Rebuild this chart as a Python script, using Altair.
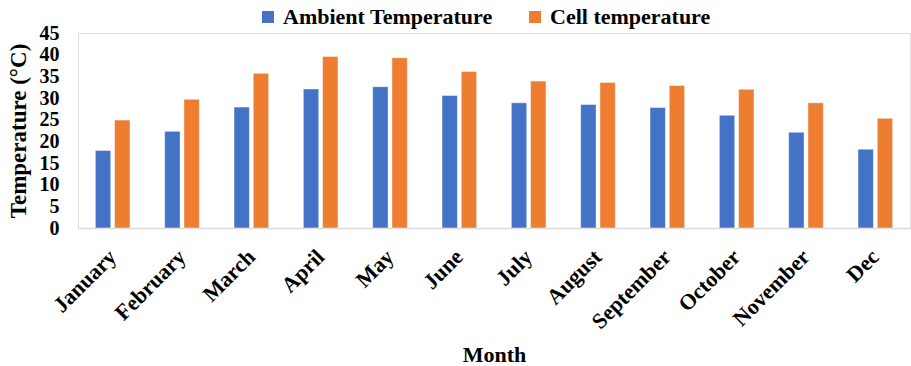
import altair as alt
import pandas as pd

months = ["January", "February", "March", "April", "May", "June", "July",
          "August", "September", "October", "November", "Dec"]
ambient = [17.9, 22.3, 27.9, 32.1, 32.6, 30.6, 28.9, 28.5, 27.8, 26.0, 22.1, 18.2]
cell = [24.9, 29.7, 35.7, 39.6, 39.3, 36.1, 33.9, 33.6, 32.9, 32.0, 28.9, 25.3]
series = ["Ambient Temperature", "Cell temperature"]
colors = ["#4472C4", "#ED7D31"]

rows = []
for m, a, c in zip(months, ambient, cell):
    rows.append({"Month": m, "Series": series[0], "Value": a})
    rows.append({"Month": m, "Series": series[1], "Value": c})
df = pd.DataFrame(rows)

FONT = "Liberation Serif"

chart = alt.Chart(df).mark_bar(stroke="#ffffff", strokeWidth=0.8, strokeOpacity=0.6).encode(
    x=alt.X("Month:N", sort=months,
            scale=alt.Scale(paddingInner=0.5, paddingOuter=0.25),
            axis=alt.Axis(title="Month", labelAngle=-45, labelAlign="right",
                          labelBaseline="middle", labelPadding=25,
                          labelFont=FONT, labelFontSize=22, labelFontWeight="bold",
                          labelColor="#000000", ticks=False,
                          domainColor="#D9D9D9", domainWidth=1.5,
                          titleFont=FONT, titleFontSize=22, titleFontWeight="bold",
                          titleColor="#000000", titlePadding=12)),
    xOffset=alt.XOffset("Series:N", sort=series,
                        scale=alt.Scale(paddingInner=0.2)),
    y=alt.Y("Value:Q", scale=alt.Scale(domain=[0, 45], nice=False),
            axis=alt.Axis(title="Temperature (°C)", values=list(range(0, 50, 5)),
                          domain=False, ticks=False, grid=False,
                          labelFont=FONT, labelFontSize=20, labelFontWeight="bold",
                          labelColor="#000000", labelPadding=19,
                          titleFont=FONT, titleFontSize=23, titleFontWeight="bold",
                          titleColor="#000000", titlePadding=9)),
    color=alt.Color("Series:N", sort=series,
                    scale=alt.Scale(domain=series, range=colors),
                    legend=alt.Legend(title=None, orient="none", direction="horizontal",
                                      legendX=179, legendY=-27,
                                      symbolType="square", symbolSize=144,
                                      symbolStrokeWidth=0,
                                      labelFont=FONT, labelFontSize=22,
                                      labelFontWeight="bold", labelColor="#000000",
                                      labelOffset=4, columnPadding=31,
                                      labelLimit=400)),
).properties(
    width=832, height=195,
    autosize=alt.AutoSizeParams(type="none"),
    padding={"left": 78, "top": 33, "right": 1, "bottom": 138},
).configure_view(stroke=None).configure(background="#ffffff")

chart.save("out.html", embed_options={"renderer": "svg", "actions": False})
